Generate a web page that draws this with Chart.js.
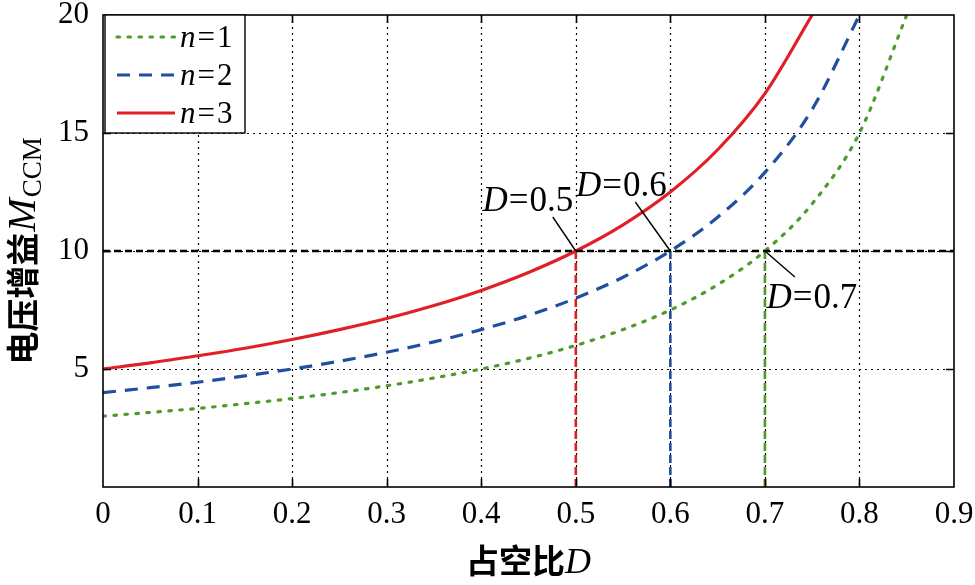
<!DOCTYPE html>
<html lang="zh">
<head>
  <meta charset="UTF-8">
  <title>电压增益 vs 占空比</title>
  <script src="https://cdn.jsdelivr.net/npm/chart.js"></script>
  <style>
    html, body { margin: 0; padding: 0; background: #fff; }
    #wrap { width: 975px; height: 585px; }
  </style>
</head>
<body>
  <div id="wrap"><canvas id="gainChart" width="975" height="585"></canvas></div>

  <script>
    // values
    const dutyD  = [0, 0.05, 0.1, 0.15, 0.2, 0.25, 0.3, 0.35, 0.4, 0.45, 0.5, 0.55, 0.6, 0.65, 0.7, 0.75, 0.8, 0.85];
    const gainN1 = [3.00, 3.16, 3.33, 3.53, 3.75, 4.00, 4.29, 4.62, 5.00, 5.45, 6.00, 6.67, 7.50, 8.57, 10.0, 12.0, 15.0, 20.0];
    const gainN2 = [4.00, 4.21, 4.44, 4.71, 5.00, 5.33, 5.71, 6.15, 6.67, 7.27, 8.00, 8.89, 10.0, 11.43, 13.33, 16.0, 20.0];
    const gainN3 = [5.00, 5.26, 5.56, 5.88, 6.25, 6.67, 7.14, 7.69, 8.33, 9.09, 10.0, 11.11, 12.5, 14.29, 16.67, 20.0];
    const seriesN = ["1", "2", "3"];
    const crossD = [0.5, 0.6, 0.7];   // n=3, n=2, n=1 reach the reference gain here
    const refGain = 10;
    const xTicks = [0, 0.1, 0.2, 0.3, 0.4, 0.5, 0.6, 0.7, 0.8, 0.9];
    const yTicks = [0, 5, 10, 15, 20];

    const SERIF = '"Liberation Serif", "Times New Roman", serif';
    const CJK = '"Noto Sans CJK SC", sans-serif';
    const colors = ["#4f9a2c", "#1f4f9e", "#e11f27"];
    const dashes = [[2.5, 8.5], [13, 9], []];

    const pts = ys => ys.map((y, i) => ({ x: dutyD[i], y: y }));

    const curveSets = [gainN1, gainN2, gainN3].map((ys, i) => ({
      label: "n=" + seriesN[i],
      data: pts(ys),
      borderColor: colors[i],
      borderWidth: 3.2,
      borderDash: dashes[i],
      borderCapStyle: i === 0 ? "round" : "butt",
      pointRadius: 0,
      cubicInterpolationMode: "monotone",
      fill: false,
      order: 1
    }));

    const refSets = [{
      label: "ref",
      data: [{ x: xTicks[0], y: refGain }, { x: xTicks[xTicks.length - 1], y: refGain }],
      borderColor: "#000",
      borderWidth: 2.4,
      borderDash: [7, 4],
      pointRadius: 0,
      order: 0
    }].concat(crossD.map((d, i) => ({
      label: "v" + i,
      data: [{ x: d, y: 0 }, { x: d, y: refGain }],
      borderColor: colors[2 - i],
      borderWidth: 2.6,
      borderDash: [8, 4],
      pointRadius: 0,
      order: 2
    })));

    // draw text made of several font runs, starting at x (or centred)
    function runs(ctx, parts, x, y, center) {
      let w = 0;
      parts.forEach(p => { ctx.font = p.f; w += ctx.measureText(p.t).width + (p.gap || 0); });
      let cx = center ? x - w / 2 : x;
      ctx.textBaseline = "alphabetic";
      ctx.textAlign = "left";
      parts.forEach(p => {
        ctx.font = p.f;
        ctx.fillText(p.t, cx, y + (p.dy || 0));
        cx += ctx.measureText(p.t).width + (p.gap || 0);
      });
    }

    const framePlugin = {
      id: "frame",
      beforeDatasetsDraw(chart) {
        const { ctx, chartArea: a, scales: { x, y } } = chart;
        ctx.save();
        ctx.strokeStyle = "#000";
        ctx.lineWidth = 1.2;
        ctx.setLineDash([2, 4]);
        xTicks.slice(1, -1).forEach(v => {
          const px = Math.round(x.getPixelForValue(v)) + 0.5;
          ctx.beginPath(); ctx.moveTo(px, a.top); ctx.lineTo(px, a.bottom); ctx.stroke();
        });
        yTicks.slice(1, -1).forEach(v => {
          const py = Math.round(y.getPixelForValue(v)) + 0.5;
          ctx.beginPath(); ctx.moveTo(a.left, py); ctx.lineTo(a.right, py); ctx.stroke();
        });
        ctx.restore();
      },
      afterDatasetsDraw(chart) {
        const { ctx, chartArea: a, scales: { x, y } } = chart;
        ctx.save();
        ctx.strokeStyle = "#000";
        ctx.lineWidth = 1.6;
        ctx.setLineDash([]);
        ctx.strokeRect(a.left, a.top, a.right - a.left, a.bottom - a.top);
        const tl = 8;
        ctx.beginPath();
        xTicks.slice(1, -1).forEach(v => {
          const px = Math.round(x.getPixelForValue(v)) + 0.5;
          ctx.moveTo(px, a.bottom); ctx.lineTo(px, a.bottom - tl);
          ctx.moveTo(px, a.top); ctx.lineTo(px, a.top + tl);
        });
        yTicks.slice(1, -1).forEach(v => {
          const py = Math.round(y.getPixelForValue(v)) + 0.5;
          ctx.moveTo(a.left, py); ctx.lineTo(a.left + tl, py);
          ctx.moveTo(a.right, py); ctx.lineTo(a.right - tl, py);
        });
        ctx.stroke();

        // annotations: leader line from the crossing point, then the label
        const leaders = [[-23, -34], [-35, -49], [30, 26]];
        const labelAt = [[-48, -40], [-49, -55], [47, 57]];
        ctx.fillStyle = "#000";
        ctx.lineWidth = 1.4;
        crossD.forEach((d, i) => {
          const px = x.getPixelForValue(d), py = y.getPixelForValue(refGain);
          ctx.beginPath();
          ctx.moveTo(px, py);
          ctx.lineTo(px + leaders[i][0], py + leaders[i][1]);
          ctx.stroke();
          runs(ctx, [
            { t: "D", f: "italic 35px " + SERIF, gap: 1 },
            { t: "=", f: "35px " + SERIF, gap: 1 },
            { t: d.toFixed(1), f: "35px " + SERIF }
          ], px + labelAt[i][0], py + labelAt[i][1], true);
        });

        // legend box in the upper-left corner
        const lx = a.left + 2, ly = a.top, lw = 140, lh = 118;
        ctx.fillStyle = "#fff";
        ctx.fillRect(lx, ly, lw, lh);
        ctx.lineWidth = 1.4;
        ctx.strokeStyle = "#000";
        ctx.strokeRect(lx, ly, lw, lh);
        chart.data.datasets.slice(0, 3).forEach((ds, i) => {
          const ry = ly + 22 + i * 38;
          ctx.save();
          ctx.strokeStyle = ds.borderColor;
          ctx.lineWidth = ds.borderWidth;
          ctx.lineCap = ds.borderCapStyle;
          ctx.setLineDash(ds.borderDash);
          ctx.beginPath();
          ctx.moveTo(lx + 12, ry); ctx.lineTo(lx + 70, ry);
          ctx.stroke();
          ctx.restore();
          ctx.fillStyle = "#000";
          runs(ctx, [
            { t: "n", f: "italic 31px " + SERIF, gap: 2 },
            { t: "=", f: "31px " + SERIF, gap: 2 },
            { t: seriesN[i], f: "31px " + SERIF }
          ], lx + 75, ry + 10, false);
        });

        ctx.restore();
      },
      afterDraw(chart) {
        const { ctx, chartArea: a } = chart;
        ctx.save();
        ctx.fillStyle = "#000";
        // x title
        runs(ctx, [
          { t: "占空比", f: "bold 33px " + CJK },
          { t: "D", f: "italic 36px " + SERIF }
        ], (a.left + a.right) / 2, 573, true);
        // y title, rotated
        ctx.translate(22, (a.top + a.bottom) / 2);
        ctx.rotate(-Math.PI / 2);
        runs(ctx, [
          { t: "电压增益", f: "bold 33px " + CJK, gap: 1 },
          { t: "M", f: "italic 40px " + SERIF, gap: 1 },
          { t: "CCM", f: "27px " + SERIF, dy: 6 }
        ], 0, 13, true);
        ctx.restore();
      }
    };

    new Chart(document.getElementById("gainChart"), {
      type: "line",
      data: { datasets: curveSets.concat(refSets) },
      plugins: [framePlugin],
      options: {
        responsive: false,
        animation: false,
        events: [],
        layout: { padding: { top: 15, right: 21, left: 0, bottom: 0 } },
        plugins: { legend: { display: false }, tooltip: { enabled: false } },
        scales: {
          x: {
            type: "linear",
            min: xTicks[0],
            max: xTicks[xTicks.length - 1],
            afterBuildTicks: s => { s.ticks = xTicks.map(v => ({ value: v })); },
            afterFit: s => { s.height = 98; s.paddingLeft = 0; s.paddingRight = 0; },
            grid: { display: false, drawTicks: false },
            border: { display: false },
            ticks: {
              color: "#000",
              padding: 9,
              maxRotation: 0,
              autoSkip: false,
              font: { family: SERIF, size: 31 },
              callback: v => (v === 0 ? "0" : v.toFixed(1))
            }
          },
          y: {
            type: "linear",
            min: yTicks[0],
            max: yTicks[yTicks.length - 1],
            afterBuildTicks: s => { s.ticks = yTicks.map(v => ({ value: v })); },
            afterFit: s => { s.width = 103; s.paddingTop = 0; s.paddingBottom = 0; },
            grid: { display: false, drawTicks: false },
            border: { display: false },
            ticks: {
              color: "#000",
              padding: 14,
              autoSkip: false,
              font: { family: SERIF, size: 31 },
              callback: v => (v === 0 ? "" : String(v))
            }
          }
        }
      }
    });
  </script>
</body>
</html>
